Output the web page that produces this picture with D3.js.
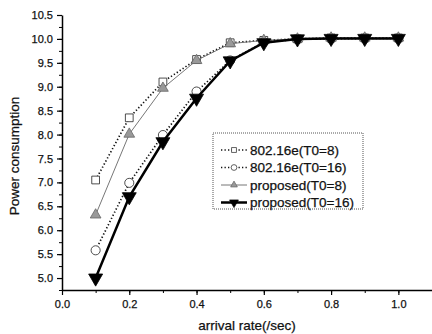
<!DOCTYPE html>
<html>
<head>
<meta charset="utf-8">
<script src="https://cdn.jsdelivr.net/npm/d3@7"></script>
<style>
body { margin: 0; background: #fff; }
svg { font-family: Arial, "Liberation Sans", sans-serif; }
svg text { fill: #111; stroke: #111; stroke-width: 0.25px; }
</style>
</head>
<body>
<div id="chart"></div>
<script>
// data
var rates = [0.1, 0.2, 0.3, 0.4, 0.5, 0.6, 0.7, 0.8, 0.9, 1.0];
var std8 = [7.05, 8.35, 9.10, 9.57, 9.92, 9.97, 10.0, 10.02, 10.02, 10.02];
var std16 = [5.58, 6.99, 7.99, 8.90, 9.55, 9.93, 9.99, 10.0, 10.01, 10.01];
var prop8 = [6.32, 8.01, 8.97, 9.55, 9.90, 9.97, 10.0, 10.02, 10.02, 10.02];
var prop16 = [5.0, 6.70, 7.85, 8.76, 9.54, 9.92, 10.0, 10.01, 10.01, 10.01];
var names = ["802.16e(T0=8)", "802.16e(T0=16)", "proposed(T0=8)", "proposed(T0=16)"];
var xTicks = [0.0, 0.2, 0.4, 0.6, 0.8, 1.0];
var yTicks = [5.0, 5.5, 6.0, 6.5, 7.0, 7.5, 8.0, 8.5, 9.0, 9.5, 10.0, 10.5];

var width = 432, height = 334;
var svg = d3.select("#chart").append("svg").attr("width", width).attr("height", height);

var x = d3.scaleLinear().domain([0, 1.1]).range([62, 432]);
var y = d3.scaleLinear().domain([4.75, 10.5]).range([290, 15]);

// axes
var xMinor = d3.range(0, 11).map(function(i) { return i / 10; });
var yMinor = d3.range(0, 24).map(function(i) { return 4.75 + i * 0.25; });

svg.append("g").attr("transform", "translate(0,290)")
	.call(d3.axisBottom(x).tickValues(xMinor).tickSize(3).tickFormat(""))
	.call(function(g) { g.select(".domain").remove(); });
svg.append("g").attr("transform", "translate(0,290)")
	.call(d3.axisBottom(x).tickValues(xTicks).tickSize(5).tickSizeOuter(0).tickFormat(d3.format(".1f")))
	.call(function(g) {
		g.select(".domain").attr("stroke-width", 1.5);
		g.selectAll("line").attr("stroke-width", 1.2);
		g.selectAll("text").attr("font-size", 11).attr("dy", "0.95em");
	});

svg.append("g").attr("transform", "translate(62,0)")
	.call(d3.axisLeft(y).tickValues(yMinor).tickSize(3).tickFormat(""))
	.call(function(g) { g.select(".domain").remove(); });
svg.append("g").attr("transform", "translate(62,0)")
	.call(d3.axisLeft(y).tickValues(yTicks).tickSize(5).tickSizeOuter(0).tickFormat(d3.format(".1f")))
	.call(function(g) {
		g.select(".domain").attr("stroke-width", 1.5);
		g.selectAll("line").attr("stroke-width", 1.2);
		g.selectAll("text").attr("font-size", 11).attr("x", -9);
	});

svg.append("text").attr("transform", "translate(19,156) rotate(-90)")
	.attr("text-anchor", "middle").attr("font-size", 13.5).text("Power consumption");
svg.append("text").attr("x", 247).attr("y", 330)
	.attr("text-anchor", "middle").attr("font-size", 13.5).text("arrival rate(/sec)");

// series styles
var series = [
	{ name: names[0], vals: std8, stroke: "#111", width: 1.7, dash: "1.3,2.2", sym: d3.symbolSquare, size: 60, fill: "#fff", sstroke: "#222" },
	{ name: names[1], vals: std16, stroke: "#111", width: 1.7, dash: "1.3,2.2", sym: d3.symbolCircle, size: 65, fill: "#fff", sstroke: "#222" },
	{ name: names[2], vals: prop8, stroke: "#777", width: 1, dash: null, sym: d3.symbolTriangle, size: 50, fill: "#999", sstroke: "#666" },
	{ name: names[3], vals: prop16, stroke: "#000", width: 2.5, dash: null, sym: d3.symbolTriangle, size: 85, fill: "#000", sstroke: "#000", flip: true }
];

var line = d3.line().x(function(d) { return x(d[0]); }).y(function(d) { return y(d[1]); });

series.forEach(function(s) {
	var pts = rates.map(function(r, i) { return [r, s.vals[i]]; });
	svg.append("path").datum(pts).attr("d", line).attr("fill", "none")
		.attr("stroke", s.stroke).attr("stroke-width", s.width)
		.attr("stroke-dasharray", s.dash);
	svg.selectAll(null).data(pts).enter().append("path")
		.attr("d", d3.symbol().type(s.sym).size(s.size))
		.attr("transform", function(d) {
			return "translate(" + x(d[0]) + "," + y(d[1]) + ")" + (s.flip ? " rotate(180)" : "");
		})
		.attr("fill", s.fill).attr("stroke", s.sstroke).attr("stroke-width", 0.8);
});

// legend
var lg = svg.append("g");
lg.append("rect").attr("x", 213).attr("y", 133).attr("width", 150).attr("height", 76)
	.attr("fill", "#fff").attr("stroke", "#555").attr("stroke-width", 1).attr("stroke-dasharray", "1,1");
series.forEach(function(s, i) {
	var cy = 150 + i * 17.5;
	lg.append("line").attr("x1", 221).attr("x2", 247).attr("y1", cy).attr("y2", cy)
		.attr("stroke", s.stroke).attr("stroke-width", s.width).attr("stroke-dasharray", s.dash);
	lg.append("path").attr("d", d3.symbol().type(s.sym).size(s.size * 0.4))
		.attr("transform", "translate(234," + cy + ")" + (s.flip ? " rotate(180)" : ""))
		.attr("fill", s.fill).attr("stroke", s.sstroke).attr("stroke-width", 0.7);
	lg.append("text").attr("x", 250).attr("y", cy).attr("dy", "0.36em")
		.attr("font-size", 13.5).text(s.name);
});
</script>
</body>
</html>
